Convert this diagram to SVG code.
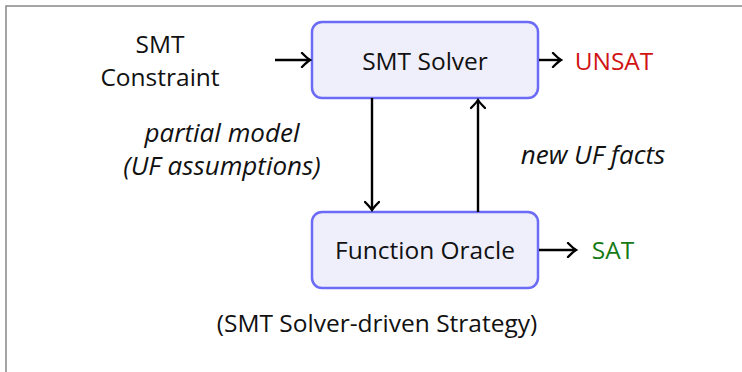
<svg xmlns="http://www.w3.org/2000/svg" width="742" height="372" viewBox="0 0 742 372">
  <style>
    .box { fill: #efeffc; stroke: #6b6bf5; stroke-width: 2.5; }
    .lbl { font-family: "Open Sans", "Liberation Sans", sans-serif; font-size: 24.5px; fill: #111; text-anchor: middle; }
    .it { font-style: italic; font-size: 26px; }
    .edge { stroke: #000; stroke-width: 2.4; fill: none; marker-end: url(#tip); }
  </style>
  <defs>
    <marker id="tip" viewBox="-10 -8 12 16" refX="0" refY="0" markerWidth="12" markerHeight="16" markerUnits="userSpaceOnUse" orient="auto">
      <path d="M -8,-7 Q -2.5,-1.5 0,0 Q -2.5,1.5 -8,7" fill="none" stroke="#000" stroke-width="2.4" stroke-linecap="round"/>
    </marker>
  </defs>
  <rect width="742" height="372" fill="#fff"/>
  <!-- frame -->
  <path d="M 6,372 V 6 H 742" fill="none" stroke="#888" stroke-width="1.5"/>

  <g id="input">
    <text class="lbl" x="160" y="53">SMT</text>
    <text class="lbl" x="160" y="86">Constraint</text>
  </g>
  <g id="solver">
    <rect class="box" x="312" y="22" width="226" height="76" rx="10"/>
    <text class="lbl" x="425" y="70">SMT Solver</text>
  </g>
  <g id="oracle">
    <rect class="box" x="312" y="212" width="226" height="76" rx="10"/>
    <text class="lbl" x="425" y="259">Function Oracle</text>
  </g>
  <g id="unsat">
    <text class="lbl" x="614" y="70" style="fill:#d01414">UNSAT</text>
  </g>
  <g id="sat">
    <text class="lbl" x="613" y="259" style="fill:#157a15">SAT</text>
  </g>
  <g id="edge-labels">
    <text class="lbl it" x="222" y="142">partial model</text>
    <text class="lbl it" x="222" y="175">(UF assumptions)</text>
    <text class="lbl it" x="593" y="164">new UF facts</text>
  </g>
  <g id="caption">
    <text class="lbl" x="377" y="332">(SMT Solver-driven Strategy)</text>
  </g>
  <g id="connectors">
    <line class="edge" x1="275" y1="60" x2="310" y2="60"/>
    <line class="edge" x1="539" y1="60" x2="561" y2="60"/>
    <line class="edge" x1="372" y1="98" x2="372" y2="210"/>
    <line class="edge" x1="478" y1="212" x2="478" y2="100"/>
    <line class="edge" x1="539" y1="250" x2="576" y2="250"/>
  </g>
</svg>
